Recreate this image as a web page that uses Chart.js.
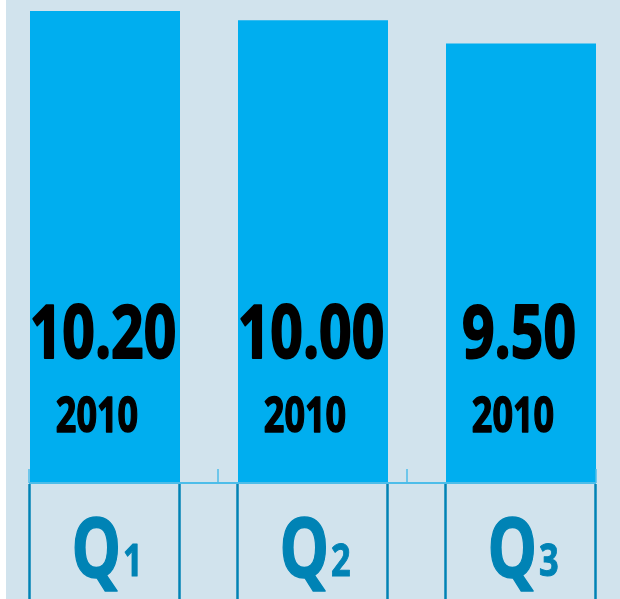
<!DOCTYPE html>
<html>
<head>
<meta charset="utf-8">
<script src="https://cdn.jsdelivr.net/npm/chart.js@4.4.1/dist/chart.umd.min.js"></script>
<style>
  html, body { margin:0; padding:0; background:#ffffff; overflow:hidden; width:620px; height:599px; }
  #bg { position:absolute; left:6px; top:0; width:614px; height:599px; background:#d1e3ed; }
  #wrap { position:absolute; left:1px; top:0; width:624px; height:599px; }
</style>
</head>
<body>
<div id="bg"></div>
<div id="wrap"><canvas id="c" width="624" height="599"></canvas></div>
<script>
const categories = ['Q1', 'Q2', 'Q3'];
const values = [10.20, 10.00, 9.50];
const valueLabels = ['10.20', '10.00', '9.50'];
const years = ['2010', '2010', '2010'];

const BAR = '#00aeef';
const DARK = '#0083b5';
const LIGHT = '#4dbde9';

function condensedText(ctx, text, x, y, font, k, align, strokeW) {
  ctx.save();
  ctx.font = font;
  ctx.textBaseline = 'alphabetic';
  ctx.textAlign = align || 'center';
  ctx.translate(x, y);
  ctx.scale(k, 1);
  ctx.fillText(text, 0, 0);
  if (strokeW) {
    ctx.strokeStyle = ctx.fillStyle;
    ctx.lineWidth = strokeW;
    ctx.lineJoin = 'round';
    ctx.strokeText(text, 0, 0);
  }
  ctx.restore();
}

const decor = {
  id: 'decor',
  afterDatasetsDraw(chart) {
    const ctx = chart.ctx;
    const bars = chart.getDatasetMeta(0).data;
    const bottom = chart.chartArea.bottom;
    const H = chart.height;
    const left = bars[0].x - bars[0].width / 2 - 1;
    const right = bars[bars.length - 1].x + bars[bars.length - 1].width / 2;

    // axis line
    ctx.save();
    ctx.strokeStyle = LIGHT;
    ctx.lineWidth = 2;
    ctx.beginPath();
    ctx.moveTo(left, bottom);
    ctx.lineTo(right, bottom);
    ctx.stroke();
    // short ticks
    ctx.lineWidth = 1.5;
    const n = bars.length;
    for (let i = 0; i <= n; i++) {
      const tx = left + (right - left) * i / n;
      ctx.beginPath();
      ctx.moveTo(tx, bottom - 14);
      ctx.lineTo(tx, bottom);
      ctx.stroke();
    }
    // box lines
    ctx.strokeStyle = DARK;
    ctx.lineWidth = 2.5;
    bars.forEach(b => {
      [b.x - b.width / 2 - 0.5, b.x + b.width / 2 - 0.5].forEach(ex => {
        ctx.beginPath();
        ctx.moveTo(ex, bottom + 1);
        ctx.lineTo(ex, H);
        ctx.stroke();
      });
    });
    ctx.restore();

    // value and year labels
    ctx.save();
    ctx.fillStyle = '#000000';
    bars.forEach((b, i) => {
      condensedText(ctx, valueLabels[i], b.x - 2, bottom - 125, 'bold 73px "Open Sans"', 0.78, 'center', 2);
      condensedText(ctx, years[i], b.x - 8, bottom - 51, 'bold 48px "Open Sans"', 0.75, 'center', 1.5);
    });
    ctx.restore();

    // category labels Q + subscript
    ctx.save();
    ctx.fillStyle = DARK;
    const kQ = 0.76;
    const kS = 0.78;
    bars.forEach((b, i) => {
      const main = categories[i].charAt(0);
      const sub = categories[i].slice(1);
      ctx.font = 'bold 82px "Open Sans"';
      const wMain = ctx.measureText(main).width * kQ;
      ctx.font = 'bold 44px "Open Sans"';
      const wSub = ctx.measureText(sub).width * kS;
      const gap = 2;
      const total = wMain + gap + wSub;
      const x0 = b.x + 2 - total / 2;
      condensedText(ctx, main, x0, bottom + 94, 'bold 82px "Open Sans"', kQ, 'left', 1.5);
      condensedText(ctx, sub, x0 + wMain + gap, bottom + 93, 'bold 44px "Open Sans"', kS, 'left', 1);
    });
    ctx.restore();
  }
};

new Chart(document.getElementById('c'), {
  type: 'bar',
  data: {
    labels: categories,
    datasets: [{
      data: values,
      backgroundColor: BAR,
      borderWidth: 0,
      barPercentage: 150 / 208,
      categoryPercentage: 1.0
    }]
  },
  options: {
    responsive: false,
    animation: false,
    layout: { padding: 0 },
    plugins: { legend: { display: false }, tooltip: { enabled: false }, title: { display: false } },
    scales: {
      x: {
        display: true,
        grid: { display: false },
        border: { display: false },
        ticks: { display: false },
        afterFit(s) { s.height = 116; }
      },
      y: {
        display: false,
        min: 0,
        max: 10.44
      }
    }
  },
  plugins: [decor]
});
</script>
</body>
</html>
